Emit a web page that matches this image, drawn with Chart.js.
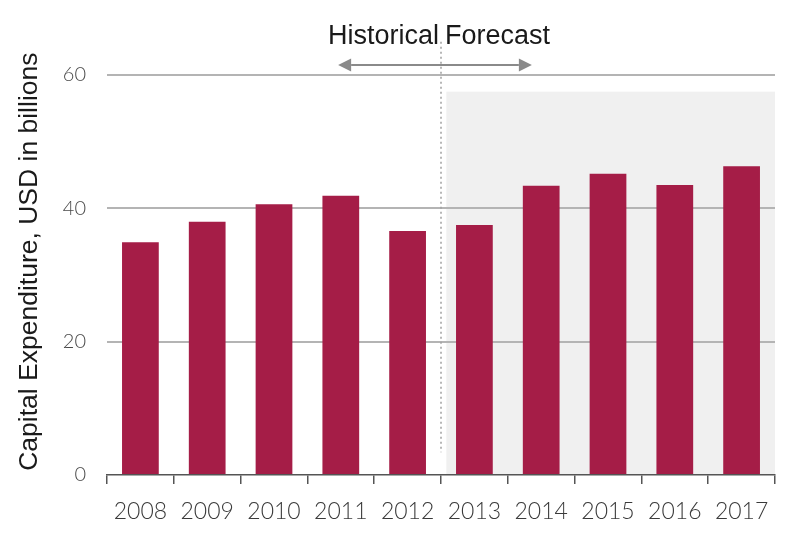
<!DOCTYPE html>
<html>
<head>
<meta charset="utf-8">
<script src="https://cdn.jsdelivr.net/npm/chart.js@4.4.1/dist/chart.umd.min.js"></script>
<style>
    html, body { margin: 0; padding: 0; background: #fff; }
    #wrap { width: 800px; height: 548px; }
</style>
</head>
<body>
<div id="wrap"><canvas id="capexChart"></canvas></div>
<script>
// ── Data ────────────────────────────────────────────
const years  = ["2008", "2009", "2010", "2011", "2012", "2013", "2014", "2015", "2016", "2017"];
const capex  = [34.9, 38.0, 40.6, 41.9, 36.6, 37.5, 43.4, 45.2, 43.5, 46.3];
const yTicks = [0, 20, 40, 60];

const forecastStart   = 5;      // index of first forecast year
const forecastCeiling = 57.5;   // top of shaded forecast band
const yTitle          = "Capital Expenditure, USD in billions";
const histLabel       = "Historical";
const foreLabel       = "Forecast";

const BAR_COLOR  = "#a51d47";
const GRID_COLOR = "#b4b4b4";
const AXIS_COLOR = "#555555";

// ── Forecast band, divider, header, y title ─────────
const forecastMarks = {
    id: "forecastMarks",
    beforeDraw(chart) {
        const { ctx, chartArea, scales: { x, y } } = chart;
        const left = x.getPixelForValue(forecastStart - 0.42);
        ctx.save();
        ctx.fillStyle = "#f0f0f0";
        ctx.fillRect(left, y.getPixelForValue(forecastCeiling),
                     chartArea.right - left, y.getPixelForValue(0) - y.getPixelForValue(forecastCeiling));
        ctx.restore();
    },
    afterDraw(chart) {
        const { ctx, scales: { x, y } } = chart;
        const divX = x.getPixelForValue(forecastStart - 0.5);

        ctx.save();
        // dotted divider
        ctx.strokeStyle = "#a0a0a0";
        ctx.lineWidth = 1.5;
        ctx.setLineDash([2, 3]);
        ctx.beginPath();
        ctx.moveTo(divX, y.getPixelForValue(65));
        ctx.lineTo(divX, y.getPixelForValue(3.4));
        ctx.stroke();
        ctx.setLineDash([]);

        // header text
        ctx.fillStyle = "#1a1a1a";
        ctx.font = "27px 'Liberation Sans', Arial, sans-serif";
        ctx.textBaseline = "alphabetic";
        const baseY = y.getPixelForValue(64.6);
        ctx.textAlign = "right";
        ctx.fillText(histLabel, divX - 2, baseY);
        ctx.textAlign = "left";
        ctx.fillText(foreLabel, divX + 4, baseY);

        // double-headed arrow
        const ay = y.getPixelForValue(61.5);
        const ax1 = x.getPixelForValue(2.96);
        const ax2 = x.getPixelForValue(5.86);
        const head = 13, half = 6.5;
        ctx.strokeStyle = "#8a8a8a";
        ctx.fillStyle = "#8a8a8a";
        ctx.lineWidth = 2;
        ctx.beginPath();
        ctx.moveTo(ax1 + head, ay);
        ctx.lineTo(ax2 - head, ay);
        ctx.stroke();
        ctx.beginPath();
        ctx.moveTo(ax1, ay); ctx.lineTo(ax1 + head, ay - half); ctx.lineTo(ax1 + head, ay + half);
        ctx.closePath(); ctx.fill();
        ctx.beginPath();
        ctx.moveTo(ax2, ay); ctx.lineTo(ax2 - head, ay - half); ctx.lineTo(ax2 - head, ay + half);
        ctx.closePath(); ctx.fill();

        // y axis title
        ctx.translate(30, y.getPixelForValue(32));
        ctx.rotate(-Math.PI / 2);
        ctx.fillStyle = "#1a1a1a";
        ctx.font = "26.5px 'Liberation Sans', Arial, sans-serif";
        ctx.textAlign = "center";
        ctx.textBaseline = "middle";
        ctx.fillText(yTitle, 0, 0);
        ctx.restore();
    }
};

// ── Chart ───────────────────────────────────────────
const ctx = document.getElementById("capexChart").getContext("2d");
new Chart(ctx, {
    type: "bar",
    data: {
        labels: years,
        datasets: [{
            label: "Capital Expenditure",
            data: capex,
            backgroundColor: BAR_COLOR,
            barPercentage: 0.55,
            categoryPercentage: 1.0,
        }]
    },
    options: {
        responsive: true,
        maintainAspectRatio: false,
        animation: false,
        layout: { padding: { top: 75, right: 25, bottom: 0, left: 0 } },
        plugins: {
            legend: { display: false },
            tooltip: { enabled: false }
        },
        scales: {
            x: {
                afterFit: s => { s.height = 73; },
                grid: {
                    offset: true,
                    drawOnChartArea: false,
                    drawTicks: true,
                    tickLength: 9,
                    color: AXIS_COLOR,
                    lineWidth: 1.5
                },
                border: { color: AXIS_COLOR, width: 1.5 },
                ticks: {
                    color: "#3a3a3a",
                    padding: 14,
                    font: { family: "Lato", weight: "300", size: 23 }
                }
            },
            y: {
                min: 0,
                max: 60,
                afterFit: s => { s.width = 107; },
                afterBuildTicks: s => { s.ticks = yTicks.map(v => ({ value: v })); },
                grid: {
                    drawTicks: false,
                    lineWidth: 2,
                    color: c => c.tick && c.tick.value === 0 ? "rgba(0,0,0,0)" : GRID_COLOR
                },
                border: { display: false },
                ticks: {
                    color: "#4a4a4a",
                    padding: 21,
                    font: { family: "Lato", weight: "300", size: 20 }
                }
            }
        }
    },
    plugins: [forecastMarks]
});
</script>
</body>
</html>
